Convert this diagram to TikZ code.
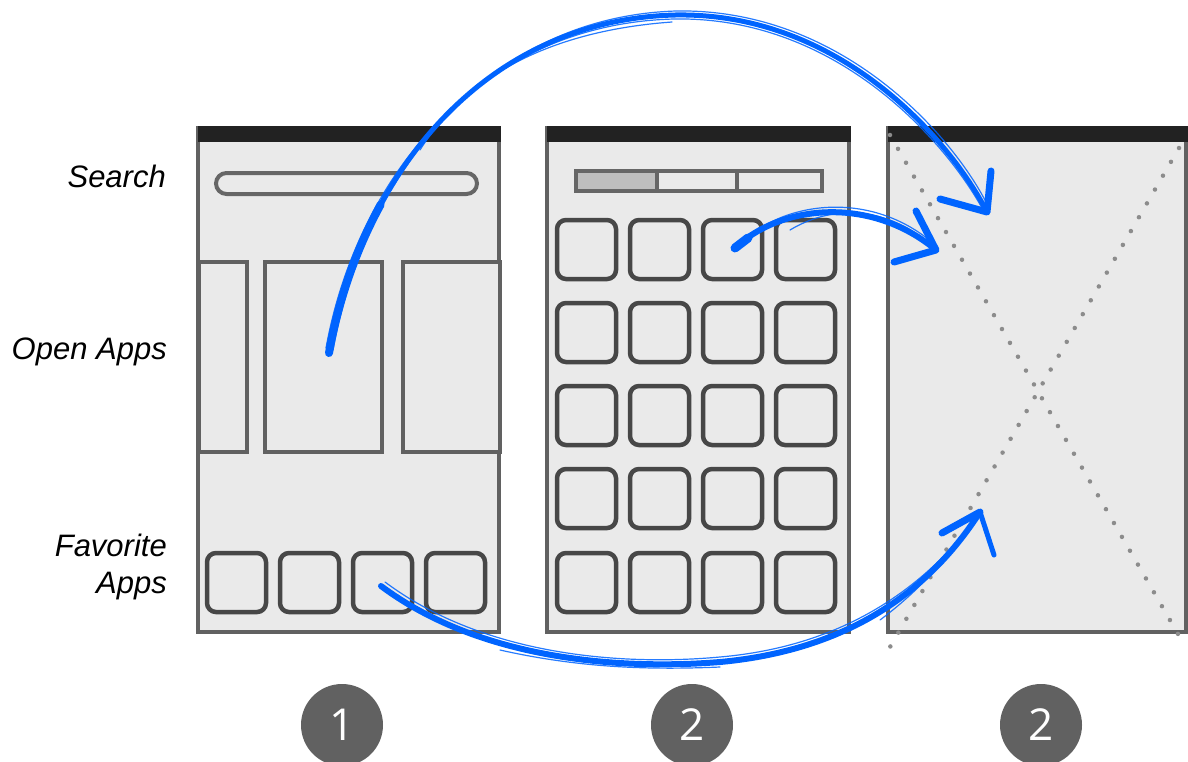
\documentclass[tikz,border=0pt]{standalone}
\usepackage{fontspec}
\setmainfont{Liberation Sans}
\newfontfamily\badgefont{Open Sans}
\definecolor{framecol}{HTML}{616161}
\definecolor{screenbg}{HTML}{EAEAEA}
\definecolor{barcol}{HTML}{222222}
\definecolor{iconcol}{HTML}{474747}
\definecolor{pillcol}{HTML}{666666}
\definecolor{tabsel}{HTML}{BEBEBE}
\definecolor{dotcol}{HTML}{8C8C8C}
\definecolor{brushblue}{HTML}{0064FF}
\begin{document}
\begin{tikzpicture}[x=1pt,y=-1pt,
  screen/.style={draw=framecol, fill=screenbg, line width=4.5pt, rectangle, inner sep=0pt, outer sep=0pt, anchor=north west},
  card/.style={draw=framecol, fill=screenbg, line width=4pt, rectangle, inner sep=0pt, outer sep=0pt, anchor=north west},
  appicon/.style={draw=iconcol, fill=screenbg, line width=4.5pt, rounded corners=9pt, inner sep=0pt, outer sep=0pt, anchor=north west, minimum width=59pt, minimum height=59pt},
  pill/.style={draw=pillcol, fill=screenbg, line width=4pt, rounded corners=10.5pt, inner sep=0pt, anchor=north west},
  tabbox/.style={draw=pillcol, line width=4pt, inner sep=0pt, anchor=north west},
  lbl/.style={font=\itshape\fontsize{31}{36}\selectfont, anchor=base east, inner sep=0pt},
  badge/.style={circle, fill=framecol, minimum size=82pt, inner sep=0pt, text=white, font=\badgefont\fontsize{44}{44}\selectfont},
  brush/.style={draw=brushblue, line width=6pt, line cap=round, line join=round},
  hair/.style={draw=brushblue, line width=1.2pt, line cap=round, opacity=0.85},
  xdots/.style={draw=dotcol, line width=4.5pt, line cap=round, dash pattern=on 0pt off 16pt}
]
\useasboundingbox (0,0) rectangle (1188,761);

% labels
\node[lbl] (lsearch) at (166,187) {Search};
\node[lbl] (lopen) at (167,359) {Open Apps};
\node[lbl] (lfav) at (167,556) {Favorite};
\node[lbl] (lapps) at (167,593) {Apps};

% ---------- screen 1 ----------
\node[screen, minimum width=301pt, minimum height=504pt] (s1) at (198,128) {};
\fill[barcol] (198,126) rectangle (501,142);
\node[pill, minimum width=261pt, minimum height=21pt] (search) at (214,171) {};
\node[card, minimum width=48pt, minimum height=190pt] (oa1) at (199,262) {};
\node[card, minimum width=117pt, minimum height=190pt] (oa2) at (265,262) {};
\node[card, minimum width=97pt, minimum height=190pt] (oa3) at (403,262) {};
\foreach \i/\x in {1/207,2/280,3/353,4/426}
  \node[appicon] (fav\i) at (\x,553) {};

% ---------- screen 2 ----------
\node[screen, minimum width=302pt, minimum height=504pt] (s2) at (547,128) {};
\fill[barcol] (547,126) rectangle (851,142);
\fill[tabsel] (574,169) rectangle (657,189);
\node[tabbox, minimum width=246pt, minimum height=20pt] (tabs) at (574,169) {};
\draw[draw=pillcol, line width=4pt] (657,169) -- (657,189);
\draw[draw=pillcol, line width=4pt] (737,169) -- (737,189);
\foreach \c/\x in {1/557,2/630,3/703,4/776}
  \foreach \r/\y in {1/220,2/303,3/386,4/469,5/553}
    \node[appicon] (g\r\c) at (\x,\y) {};

% ---------- screen 3 ----------
\node[screen, minimum width=298pt, minimum height=504pt] (s3) at (888,128) {};
\fill[barcol] (888,126) rectangle (1188,142);
\draw[xdots] (890,135) -- (1178,634);
\draw[xdots] (1179,148) -- (890,647);

% ---------- badges ----------
\node[badge] (b1) at (342,725) {1};
\node[badge] (b2) at (692,725) {2};
\node[badge] (b3) at (1041,725) {2};

% ---------- blue brush arrows ----------
\coordinate (a1s) at (329,353);
\coordinate (a1e) at (987,212);
\coordinate (a2s) at (735,248);
\coordinate (a2e) at (936,250);
\coordinate (a3s) at (381,586);
\coordinate (a3e) at (980,512);

% arrow 1: open app -> app screen
\draw[brush, line width=5pt] (a1s) .. controls (360,180) and (480,20) .. (675,15) .. controls (840,12) and (950,140) .. (a1e);
\draw[brush, line width=8pt] (a1s) .. controls (338.3,301.1) and (355.6,250.4) .. (380.6,204.7);
\draw[hair] (333,350) .. controls (364,178) and (484,17) .. (676,11) .. controls (842,8) and (954,137) .. (988,206);
\draw[hair] (326,348) .. controls (356,182) and (476,24) .. (674,19) .. controls (838,16) and (946,143) .. (982,208);
\draw[hair] (420,150) .. controls (470,70) and (560,30) .. (672,22);
\draw[brush, line width=7pt] (991,171) -- (a1e) -- (940,199);

% arrow 2: app icon -> app screen
\draw[brush, line width=6pt] (a2s) .. controls (780,205) and (870,195) .. (a2e);
\draw[brush, line width=9pt] (a2s) -- (748,238);
\draw[hair] (740,244) .. controls (784,200) and (872,190) .. (934,244);
\draw[hair] (790,230) .. controls (830,206) and (880,205) .. (925,240);
\draw[brush, line width=7pt] (916,211) -- (a2e) -- (894,262);

% arrow 3: favorite app -> app screen
\draw[brush, line width=6pt] (a3s) .. controls (480,660) and (620,670) .. (720,662) .. controls (850,650) and (930,590) .. (a3e);
\draw[hair] (385,582) .. controls (484,656) and (622,666) .. (720,657) .. controls (846,646) and (926,586) .. (978,516);
\draw[hair] (500,650) .. controls (580,668) and (650,670) .. (720,667);
\draw[hair] (880,620) .. controls (920,590) and (945,560) .. (968,530);
\draw[brush, line width=7pt] (942,533) -- (a3e);
\draw[brush, line width=5pt] (a3e) -- (994,555);
\end{tikzpicture}
\end{document}
